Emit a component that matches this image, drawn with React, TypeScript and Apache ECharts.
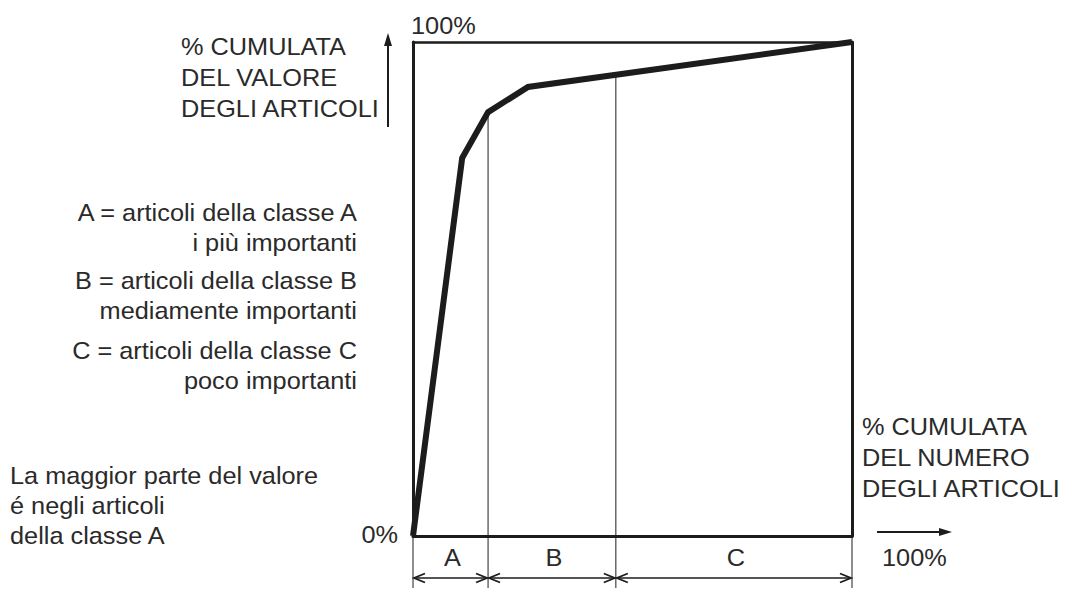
import React, { useEffect, useRef } from "react";
import * as echarts from "echarts";

// ---- data ----
const curveX = [0, 11.2, 17.1, 26.2, 100]; // % cumulata del numero degli articoli
const curveY = [0, 76.5, 85.8, 90.9, 100]; // % cumulata del valore degli articoli
const classBounds = [0, 17.1, 46.2, 100];
const classNames = ["A", "B", "C"];
const tickLabels = ["0%", "100%"];
const yTitle = ["% CUMULATA", "DEL VALORE", "DEGLI ARTICOLI"];
const xTitle = ["% CUMULATA", "DEL NUMERO", "DEGLI ARTICOLI"];
const legendLines = [
  "A = articoli della classe A",
  "i più importanti",
  "B = articoli della classe B",
  "mediamente importanti",
  "C = articoli della classe C",
  "poco importanti",
];
const noteLines = ["La maggior parte del valore", "é negli articoli", "della classe A"];

const INK = "#1c1c1c";
const TXT = "#2a2a2a";
const FONT = "'Liberation Sans', Arial, Helvetica, sans-serif";
const FS = 24;
const SX = 1.055;

function curveAt(x: number): number {
  for (let i = 1; i < curveX.length; i++) {
    if (x <= curveX[i]) {
      const t = (x - curveX[i - 1]) / (curveX[i] - curveX[i - 1]);
      return curveY[i - 1] + t * (curveY[i] - curveY[i - 1]);
    }
  }
  return curveY[curveY.length - 1];
}

function txt(text: string, x: number, y: number, align: string = "left") {
  return {
    type: "text",
    x,
    y,
    scaleX: SX,
    silent: true,
    style: {
      text,
      fontSize: FS,
      fontFamily: FONT,
      fill: TXT,
      textAlign: align,
      align,
      textVerticalAlign: "middle",
      verticalAlign: "middle",
    },
  };
}

function ln(x1: number, y1: number, x2: number, y2: number, w: number, c = INK) {
  return {
    type: "line",
    silent: true,
    shape: { x1, y1, x2, y2 },
    style: { stroke: c, lineWidth: w },
  };
}

export default function App() {
  const ref = useRef<HTMLDivElement>(null);
  useEffect(() => {
    const chart = echarts.init(ref.current!, null, { renderer: "svg" });
    const hiddenAxis = {
      axisTick: { show: false },
      axisLabel: { show: false },
      splitLine: { show: false },
    };
    chart.setOption({
      animation: false,
      backgroundColor: "#ffffff",
      grid: { left: 413, top: 42, right: 213, bottom: 54, containLabel: false },
      xAxis: [
        {
          type: "value",
          min: 0,
          max: 100,
          position: "bottom",
          axisLine: { show: true, onZero: false, lineStyle: { color: INK, width: 3 } },
          ...hiddenAxis,
        },
        {
          type: "value",
          min: 0,
          max: 100,
          position: "top",
          axisLine: { show: true, onZero: false, lineStyle: { color: INK, width: 2.5 } },
          ...hiddenAxis,
        },
      ],
      yAxis: [
        {
          type: "value",
          min: 0,
          max: 100,
          position: "left",
          axisLine: { show: true, onZero: false, lineStyle: { color: INK, width: 3 } },
          ...hiddenAxis,
        },
        {
          type: "value",
          min: 0,
          max: 100,
          position: "right",
          axisLine: { show: true, onZero: false, lineStyle: { color: INK, width: 3 } },
          ...hiddenAxis,
        },
      ],
      series: [
        {
          type: "line",
          xAxisIndex: 0,
          yAxisIndex: 0,
          data: curveX.map((x, i) => [x, curveY[i]]),
          showSymbol: false,
          symbol: "none",
          lineStyle: { color: INK, width: 6, join: "miter" },
          z: 5,
        },
      ],
    });

    const px = (x: number, y: number) =>
      chart.convertToPixel({ xAxisIndex: 0, yAxisIndex: 0 }, [x, y]) as number[];
    const [x0, y0] = px(0, 0);
    const [x1, y1] = px(100, 100);
    const extBottom = y0 + 52;
    const dimY = y0 + 42;
    const labY = y0 + 22;

    const els: any[] = [];
    // class boundary lines
    classBounds.forEach((b) => {
      const bx = px(b, 0)[0];
      if (b > 0 && b < 100) {
        const top = px(b, curveAt(b))[1];
        els.push(ln(bx, top, bx, extBottom, 1.2, "#444"));
      } else {
        els.push(ln(bx, y0, bx, extBottom, 1.2, "#444"));
      }
    });
    // dimension arrows + class labels
    for (let i = 0; i < classNames.length; i++) {
      const a = px(classBounds[i], 0)[0] + 1;
      const b = px(classBounds[i + 1], 0)[0] - 1;
      els.push(ln(a, dimY, b, dimY, 1.6));
      els.push({
        type: "polyline",
        silent: true,
        shape: { points: [[a + 11, dimY - 4.5], [a, dimY], [a + 11, dimY + 4.5]] },
        style: { stroke: INK, lineWidth: 1.8, fill: "none" },
      });
      els.push({
        type: "polyline",
        silent: true,
        shape: { points: [[b - 11, dimY - 4.5], [b, dimY], [b - 11, dimY + 4.5]] },
        style: { stroke: INK, lineWidth: 1.8, fill: "none" },
      });
      els.push(txt(classNames[i], (a + b) / 2 + 2, labY, "center"));
    }
    // tick labels
    els.push(txt(tickLabels[0], x0 - 15, y0 - 1, "right"));
    els.push(txt(tickLabels[1], x0 - 2, y1 - 16, "left"));
    els.push(txt(tickLabels[1], x1 + 30, labY, "left"));
    // y arrow
    const ax = x0 - 25;
    els.push(ln(ax, y1 + 85, ax, y1 - 2, 2));
    els.push({
      type: "polygon",
      silent: true,
      shape: { points: [[ax, y1 - 9], [ax - 4, y1 + 4], [ax + 4, y1 + 4]] },
      style: { fill: INK },
    });
    // x arrow
    const ay = y0 - 4;
    els.push(ln(x1 + 25, ay, x1 + 90, ay, 2));
    els.push({
      type: "polygon",
      silent: true,
      shape: { points: [[x1 + 100, ay], [x1 + 87, ay - 4], [x1 + 87, ay + 4]] },
      style: { fill: INK },
    });
    // titles
    yTitle.forEach((t, i) => els.push(txt(t, 181, 47 + i * 31, "left")));
    xTitle.forEach((t, i) => els.push(txt(t, 862, 427 + i * 31, "left")));
    const legendY = [213, 243, 281, 311, 351, 381];
    legendLines.forEach((t, i) => els.push(txt(t, 357, legendY[i], "right")));
    noteLines.forEach((t, i) => els.push(txt(t, 10, 476 + i * 30, "left")));

    chart.setOption({ graphic: { elements: els } });
    return () => chart.dispose();
  }, []);
  return (
    <div
      ref={ref}
      style={{ position: "absolute", left: 0, top: 0, width: 1065, height: 590, background: "#fff" }}
    />
  );
}
